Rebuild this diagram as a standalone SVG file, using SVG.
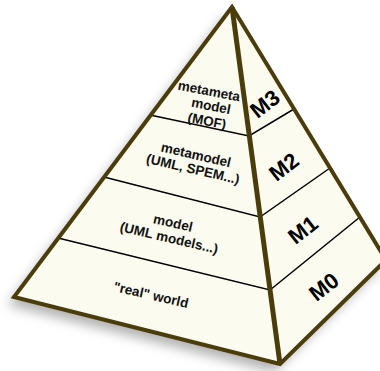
<svg xmlns="http://www.w3.org/2000/svg" width="380" height="371" viewBox="0 0 380 371">
  <style>
    .face { fill: #fbfbef; }
    .edge { fill: none; stroke: #4b3d0b; stroke-width: 4; stroke-linejoin: miter; stroke-miterlimit: 10; }
    .ridge { stroke: #4b3d0b; stroke-width: 5; stroke-linecap: butt; }
    .div { stroke: #000; stroke-width: 1.5; fill: none; }
    .lbl { font-family: "Liberation Sans", Arial, sans-serif; font-weight: bold; font-size: 13.5px; fill: #111; text-anchor: middle; dominant-baseline: central; }
    .m { font-family: "Liberation Sans", Arial, sans-serif; font-weight: bold; font-size: 22px; fill: #000; text-anchor: middle; dominant-baseline: central; }
  </style>
  <defs>
    <filter id="sh" x="-20%" y="-20%" width="140%" height="150%">
      <feDropShadow dx="-6" dy="8" stdDeviation="6" flood-color="#000" flood-opacity="0.3"/>
    </filter>
  </defs>
  <g id="pyramid">
    <polygon class="face" filter="url(#sh)" points="232,7 14,297 280,364 386,260"/>
    <polygon class="face" points="232,7 14,297 280,364"/>
    <polygon class="face" points="232,7 280,364 386,260"/>
  </g>
  <g id="connectors">
    <polyline class="div" points="150,115 249,136 294,109"/>
    <polyline class="div" points="104,177 260,217 330,168"/>
    <polyline class="div" points="58,238 270,290 360,217"/>
    <line class="ridge" x1="232" y1="7" x2="280" y2="364"/>
    <polygon class="edge" points="232,7 14,297 280,364 386,260"/>
  </g>
  <g id="m3">
    <text class="lbl" transform="translate(209,91) rotate(11)">metameta</text>
    <text class="lbl" transform="translate(211,106) rotate(11)">model</text>
    <text class="lbl" transform="translate(207,121) rotate(11)">(MOF)</text>
    <text class="m" transform="translate(265,104) rotate(-38)">M3</text>
  </g>
  <g id="m2">
    <text class="lbl" transform="translate(196,155) rotate(13)">metamodel</text>
    <text class="lbl" transform="translate(193,169) rotate(13)">(UML, SPEM...)</text>
    <text class="m" transform="translate(284,167) rotate(-38)">M2</text>
  </g>
  <g id="m1">
    <text class="lbl" transform="translate(173,223) rotate(13)">model</text>
    <text class="lbl" transform="translate(169,238) rotate(13)">(UML models...)</text>
    <text class="m" transform="translate(303,230) rotate(-38)">M1</text>
  </g>
  <g id="m0">
    <text class="lbl" transform="translate(151,295) rotate(13)">"real" world</text>
    <text class="m" transform="translate(324,287) rotate(-38)">M0</text>
  </g>
</svg>
